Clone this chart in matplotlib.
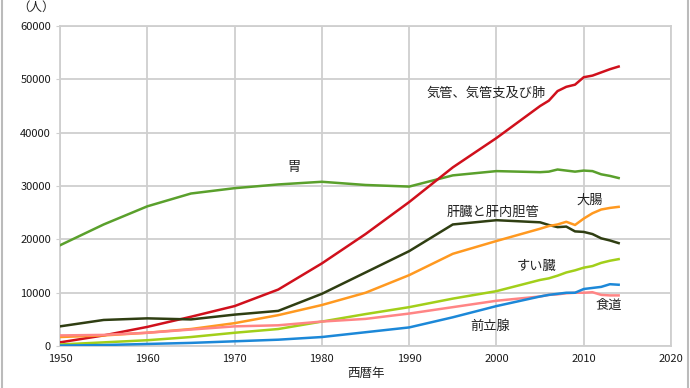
import matplotlib.pyplot as plt

plt.rcParams['font.family'] = ['Noto Sans CJK JP', 'DejaVu Sans']

years = [1950, 1955, 1960, 1965, 1970, 1975, 1980, 1985, 1990, 1995, 2000,
         2005, 2006, 2007, 2008, 2009, 2010, 2011, 2012, 2013, 2014]

lung = [700, 2000, 3600, 5500, 7500, 10600, 15500, 21000, 27000, 33500, 39000,
        45000, 46000, 47800, 48600, 49000, 50400, 50700, 51300, 51900, 52400]
stomach = [18900, 22800, 26200, 28600, 29600, 30300, 30800, 30200, 29900, 32000, 32800,
           32600, 32700, 33100, 32900, 32700, 32900, 32800, 32200, 31900, 31500]
liver = [3700, 4900, 5200, 5000, 5900, 6600, 9800, 13800, 17800, 22800, 23600,
         23200, 22700, 22300, 22400, 21500, 21400, 21000, 20200, 19800, 19300]
colon = [1700, 2000, 2500, 3200, 4300, 5800, 7700, 10000, 13300, 17300, 19700,
         22000, 22500, 22800, 23300, 22700, 23900, 24900, 25600, 25900, 26100]
pancreas = [300, 700, 1100, 1700, 2500, 3200, 4600, 6000, 7300, 8900, 10300,
            12400, 12700, 13200, 13800, 14200, 14700, 15000, 15600, 16000, 16300]
prostate = [100, 200, 400, 600, 900, 1200, 1700, 2600, 3500, 5400, 7500,
            9300, 9600, 9800, 10000, 10000, 10700, 10900, 11100, 11600, 11500]
esophagus = [2000, 2100, 2500, 3100, 3700, 3900, 4600, 5100, 6100, 7300, 8500,
             9300, 9600, 9700, 9900, 10000, 10000, 10100, 9600, 9500, 9500]

series = [
    (stomach, '#5aa02c', '胃', 1976, 33400),
    (lung, '#d0101c', '気管、気管支及び肺', 1992, 47400),
    (liver, '#2f3e12', '肝臓と肝内胆管', 1994.3, 25100),
    (colon, '#ff9920', '大腸', 2009.2, 27400),
    (pancreas, '#a2cf1a', 'すい臓', 2002.3, 15000),
    (esophagus, '#ff8585', '食道', 2011.3, 7700),
    (prostate, '#1c88d8', '前立腺', 1997, 3750),
]

fig = plt.figure(figsize=(6.9, 3.88), dpi=100)
ax = fig.add_axes([0.087, 0.108, 0.8855, 0.825])

for vals, color, name, lx, ly in series:
    ax.plot(years, vals, color=color, lw=1.8, solid_joinstyle='round', zorder=3)
    ax.text(lx, ly, name, fontsize=9.5, color='#222222', va='center', ha='left')

ax.set_xlim(1950, 2020)
ax.set_ylim(0, 60000)
ax.set_xticks(range(1950, 2021, 10))
ax.set_yticks(range(0, 60001, 10000))
ax.grid(True, color='#cfcfcf', lw=1.3)
ax.set_axisbelow(True)
for s in ax.spines.values():
    s.set_color('#cfcfcf')
    s.set_linewidth(1.3)
ax.tick_params(axis='both', labelsize=8, colors='#cfcfcf', labelcolor='#1a1a1a', length=3)
ax.tick_params(axis='x', length=0, pad=6)

fig.text(366 / 690, 1 - 373 / 388, '西暦年', fontsize=9, ha='center', va='center', color='#222222')
fig.text(36 / 690, 1 - 7 / 388, '（人）', fontsize=9, ha='center', va='center', color='#222222')

# figure border lines at left/right
fig.add_artist(plt.Line2D([2 / 690, 2 / 690], [0, 1], color='#bbbbbb', lw=1.5))
fig.add_artist(plt.Line2D([688 / 690, 688 / 690], [0, 1], color='#bbbbbb', lw=1.5))

fig.savefig('out.png', dpi=100)
